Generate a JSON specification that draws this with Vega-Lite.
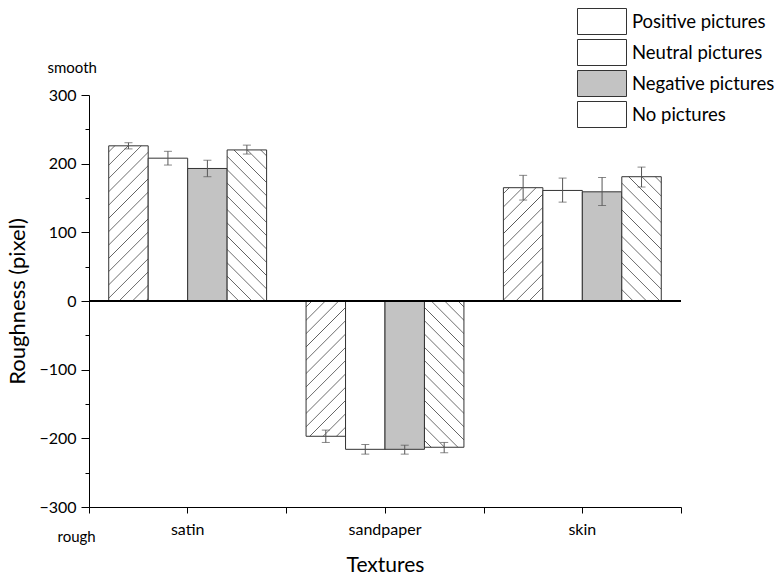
{
  "$schema": "https://vega.github.io/schema/vega-lite/v6.json",
  "width": 592,
  "height": 412,
  "autosize": "none",
  "padding": {"left": 89, "top": 95, "right": 103, "bottom": 69},
  "config": {"view": {"stroke": null}, "font": "Lato"},
  "data": {"values": [
    {"texture": "satin", "condition": "Positive pictures", "value": 226, "lo": 221.5, "hi": 230.5},
    {"texture": "satin", "condition": "Neutral pictures", "value": 208, "lo": 198, "hi": 218},
    {"texture": "satin", "condition": "Negative pictures", "value": 193, "lo": 181, "hi": 205},
    {"texture": "satin", "condition": "No pictures", "value": 220, "lo": 214, "hi": 227},
    {"texture": "sandpaper", "condition": "Positive pictures", "value": -197, "lo": -206, "hi": -188},
    {"texture": "sandpaper", "condition": "Neutral pictures", "value": -216, "lo": -223, "hi": -209},
    {"texture": "sandpaper", "condition": "Negative pictures", "value": -216, "lo": -223, "hi": -210},
    {"texture": "sandpaper", "condition": "No pictures", "value": -213, "lo": -221, "hi": -206},
    {"texture": "skin", "condition": "Positive pictures", "value": 165, "lo": 147, "hi": 183},
    {"texture": "skin", "condition": "Neutral pictures", "value": 161, "lo": 144, "hi": 179},
    {"texture": "skin", "condition": "Negative pictures", "value": 159, "lo": 139, "hi": 180},
    {"texture": "skin", "condition": "No pictures", "value": 181, "lo": 166, "hi": 195}
  ]},
  "resolve": {"axis": {"x": "independent", "y": "independent"}},
  "layer": [
    {
      "mark": {"type": "bar", "stroke": "#333333", "strokeWidth": 1},
      "encoding": {
        "x": {"field": "texture", "type": "nominal", "sort": ["satin", "sandpaper", "skin"],
          "scale": {"paddingInner": 0, "paddingOuter": 0},
          "axis": {"labelAngle": 0, "labelFontSize": 16, "labelColor": "#000", "tickSize": 6, "labelPadding": 8, "domainColor": "#000", "tickColor": "#000", "title": "Textures", "titleFontSize": 21, "titleFontWeight": "normal", "titleColor": "#000", "titlePadding": 17}},
        "xOffset": {"field": "condition", "type": "nominal", "sort": ["Positive pictures", "Neutral pictures", "Negative pictures", "No pictures"],
          "scale": {"paddingInner": 0, "paddingOuter": 0.5}},
        "y": {"field": "value", "type": "quantitative",
          "scale": {"domain": [-300, 300], "nice": false, "zero": false},
          "axis": {"values": [-300, -250, -200, -150, -100, -50, 0, 50, 100, 150, 200, 250, 300],
            "labelExpr": "datum.value % 100 === 0 ? datum.label : ''",
            "tickSize": {"condition": {"test": "datum.value % 100 === 0", "value": 8}, "value": 4},
            "labelPadding": 5, "labelFontSize": 16, "labelColor": "#000", "domainColor": "#000", "tickColor": "#000", "grid": false,
            "title": "Roughness (pixel)", "titleFontSize": 22, "titleFontWeight": "normal", "titleColor": "#000", "titlePadding": 9}},
        "fill": {
          "condition": [
            {"test": "datum.condition === 'Positive pictures' && datum.texture === 'satin'", "value": {"gradient": "linear", "x1": 0, "y1": 0, "x2": 0.30783, "y2": 1.21045, "stops": [{"offset":0,"color":"#fff"},{"offset":0.0255,"color":"#fff"},{"offset":0.03,"color":"#5a5a5a"},{"offset":0.0345,"color":"#fff"},{"offset":0.092,"color":"#fff"},{"offset":0.0965,"color":"#5a5a5a"},{"offset":0.101,"color":"#fff"},{"offset":0.1585,"color":"#fff"},{"offset":0.163,"color":"#5a5a5a"},{"offset":0.1675,"color":"#fff"},{"offset":0.225,"color":"#fff"},{"offset":0.2295,"color":"#5a5a5a"},{"offset":0.234,"color":"#fff"},{"offset":0.2915,"color":"#fff"},{"offset":0.296,"color":"#5a5a5a"},{"offset":0.3005,"color":"#fff"},{"offset":0.358,"color":"#fff"},{"offset":0.3625,"color":"#5a5a5a"},{"offset":0.367,"color":"#fff"},{"offset":0.4245,"color":"#fff"},{"offset":0.429,"color":"#5a5a5a"},{"offset":0.4335,"color":"#fff"},{"offset":0.491,"color":"#fff"},{"offset":0.4955,"color":"#5a5a5a"},{"offset":0.5,"color":"#fff"},{"offset":0.5575,"color":"#fff"},{"offset":0.562,"color":"#5a5a5a"},{"offset":0.5665,"color":"#fff"},{"offset":0.624,"color":"#fff"},{"offset":0.6285,"color":"#5a5a5a"},{"offset":0.633,"color":"#fff"},{"offset":0.6905,"color":"#fff"},{"offset":0.695,"color":"#5a5a5a"},{"offset":0.6995,"color":"#fff"},{"offset":0.757,"color":"#fff"},{"offset":0.7615,"color":"#5a5a5a"},{"offset":0.766,"color":"#fff"},{"offset":0.8235,"color":"#fff"},{"offset":0.828,"color":"#5a5a5a"},{"offset":0.8325,"color":"#fff"},{"offset":0.89,"color":"#fff"},{"offset":0.8945,"color":"#5a5a5a"},{"offset":0.899,"color":"#fff"},{"offset":0.9565,"color":"#fff"},{"offset":0.961,"color":"#5a5a5a"},{"offset":0.9655,"color":"#fff"},{"offset":1,"color":"#fff"}]}},
            {"test": "datum.condition === 'No pictures' && datum.texture === 'satin'", "value": {"gradient": "linear", "x1": 1, "y1": 0, "x2": 0.67624, "y2": 1.2393, "stops": [{"offset":0,"color":"#fff"},{"offset":0.0255,"color":"#fff"},{"offset":0.03,"color":"#5a5a5a"},{"offset":0.0345,"color":"#fff"},{"offset":0.092,"color":"#fff"},{"offset":0.0965,"color":"#5a5a5a"},{"offset":0.101,"color":"#fff"},{"offset":0.1585,"color":"#fff"},{"offset":0.163,"color":"#5a5a5a"},{"offset":0.1675,"color":"#fff"},{"offset":0.225,"color":"#fff"},{"offset":0.2295,"color":"#5a5a5a"},{"offset":0.234,"color":"#fff"},{"offset":0.2915,"color":"#fff"},{"offset":0.296,"color":"#5a5a5a"},{"offset":0.3005,"color":"#fff"},{"offset":0.358,"color":"#fff"},{"offset":0.3625,"color":"#5a5a5a"},{"offset":0.367,"color":"#fff"},{"offset":0.4245,"color":"#fff"},{"offset":0.429,"color":"#5a5a5a"},{"offset":0.4335,"color":"#fff"},{"offset":0.491,"color":"#fff"},{"offset":0.4955,"color":"#5a5a5a"},{"offset":0.5,"color":"#fff"},{"offset":0.5575,"color":"#fff"},{"offset":0.562,"color":"#5a5a5a"},{"offset":0.5665,"color":"#fff"},{"offset":0.624,"color":"#fff"},{"offset":0.6285,"color":"#5a5a5a"},{"offset":0.633,"color":"#fff"},{"offset":0.6905,"color":"#fff"},{"offset":0.695,"color":"#5a5a5a"},{"offset":0.6995,"color":"#fff"},{"offset":0.757,"color":"#fff"},{"offset":0.7615,"color":"#5a5a5a"},{"offset":0.766,"color":"#fff"},{"offset":0.8235,"color":"#fff"},{"offset":0.828,"color":"#5a5a5a"},{"offset":0.8325,"color":"#fff"},{"offset":0.89,"color":"#fff"},{"offset":0.8945,"color":"#5a5a5a"},{"offset":0.899,"color":"#fff"},{"offset":0.9565,"color":"#fff"},{"offset":0.961,"color":"#5a5a5a"},{"offset":0.9655,"color":"#fff"},{"offset":1,"color":"#fff"}]}},
            {"test": "datum.condition === 'Positive pictures' && datum.texture === 'sandpaper'", "value": {"gradient": "linear", "x1": 0, "y1": 0, "x2": 0.39754, "y2": 1.36253, "stops": [{"offset":0,"color":"#fff"},{"offset":0.0255,"color":"#fff"},{"offset":0.03,"color":"#5a5a5a"},{"offset":0.0345,"color":"#fff"},{"offset":0.092,"color":"#fff"},{"offset":0.0965,"color":"#5a5a5a"},{"offset":0.101,"color":"#fff"},{"offset":0.1585,"color":"#fff"},{"offset":0.163,"color":"#5a5a5a"},{"offset":0.1675,"color":"#fff"},{"offset":0.225,"color":"#fff"},{"offset":0.2295,"color":"#5a5a5a"},{"offset":0.234,"color":"#fff"},{"offset":0.2915,"color":"#fff"},{"offset":0.296,"color":"#5a5a5a"},{"offset":0.3005,"color":"#fff"},{"offset":0.358,"color":"#fff"},{"offset":0.3625,"color":"#5a5a5a"},{"offset":0.367,"color":"#fff"},{"offset":0.4245,"color":"#fff"},{"offset":0.429,"color":"#5a5a5a"},{"offset":0.4335,"color":"#fff"},{"offset":0.491,"color":"#fff"},{"offset":0.4955,"color":"#5a5a5a"},{"offset":0.5,"color":"#fff"},{"offset":0.5575,"color":"#fff"},{"offset":0.562,"color":"#5a5a5a"},{"offset":0.5665,"color":"#fff"},{"offset":0.624,"color":"#fff"},{"offset":0.6285,"color":"#5a5a5a"},{"offset":0.633,"color":"#fff"},{"offset":0.6905,"color":"#fff"},{"offset":0.695,"color":"#5a5a5a"},{"offset":0.6995,"color":"#fff"},{"offset":0.757,"color":"#fff"},{"offset":0.7615,"color":"#5a5a5a"},{"offset":0.766,"color":"#fff"},{"offset":0.8235,"color":"#fff"},{"offset":0.828,"color":"#5a5a5a"},{"offset":0.8325,"color":"#fff"},{"offset":0.89,"color":"#fff"},{"offset":0.8945,"color":"#5a5a5a"},{"offset":0.899,"color":"#fff"},{"offset":0.9565,"color":"#fff"},{"offset":0.961,"color":"#5a5a5a"},{"offset":0.9655,"color":"#fff"},{"offset":1,"color":"#fff"}]}},
            {"test": "datum.condition === 'No pictures' && datum.texture === 'sandpaper'", "value": {"gradient": "linear", "x1": 1, "y1": 0, "x2": 0.65607, "y2": 1.2746, "stops": [{"offset":0,"color":"#fff"},{"offset":0.0255,"color":"#fff"},{"offset":0.03,"color":"#5a5a5a"},{"offset":0.0345,"color":"#fff"},{"offset":0.092,"color":"#fff"},{"offset":0.0965,"color":"#5a5a5a"},{"offset":0.101,"color":"#fff"},{"offset":0.1585,"color":"#fff"},{"offset":0.163,"color":"#5a5a5a"},{"offset":0.1675,"color":"#fff"},{"offset":0.225,"color":"#fff"},{"offset":0.2295,"color":"#5a5a5a"},{"offset":0.234,"color":"#fff"},{"offset":0.2915,"color":"#fff"},{"offset":0.296,"color":"#5a5a5a"},{"offset":0.3005,"color":"#fff"},{"offset":0.358,"color":"#fff"},{"offset":0.3625,"color":"#5a5a5a"},{"offset":0.367,"color":"#fff"},{"offset":0.4245,"color":"#fff"},{"offset":0.429,"color":"#5a5a5a"},{"offset":0.4335,"color":"#fff"},{"offset":0.491,"color":"#fff"},{"offset":0.4955,"color":"#5a5a5a"},{"offset":0.5,"color":"#fff"},{"offset":0.5575,"color":"#fff"},{"offset":0.562,"color":"#5a5a5a"},{"offset":0.5665,"color":"#fff"},{"offset":0.624,"color":"#fff"},{"offset":0.6285,"color":"#5a5a5a"},{"offset":0.633,"color":"#fff"},{"offset":0.6905,"color":"#fff"},{"offset":0.695,"color":"#5a5a5a"},{"offset":0.6995,"color":"#fff"},{"offset":0.757,"color":"#fff"},{"offset":0.7615,"color":"#5a5a5a"},{"offset":0.766,"color":"#fff"},{"offset":0.8235,"color":"#fff"},{"offset":0.828,"color":"#5a5a5a"},{"offset":0.8325,"color":"#fff"},{"offset":0.89,"color":"#fff"},{"offset":0.8945,"color":"#5a5a5a"},{"offset":0.899,"color":"#fff"},{"offset":0.9565,"color":"#fff"},{"offset":0.961,"color":"#5a5a5a"},{"offset":0.9655,"color":"#fff"},{"offset":1,"color":"#fff"}]}},
            {"test": "datum.condition === 'Positive pictures' && datum.texture === 'skin'", "value": {"gradient": "linear", "x1": 0, "y1": 0, "x2": 0.54834, "y2": 1.57418, "stops": [{"offset":0,"color":"#fff"},{"offset":0.0255,"color":"#fff"},{"offset":0.03,"color":"#5a5a5a"},{"offset":0.0345,"color":"#fff"},{"offset":0.092,"color":"#fff"},{"offset":0.0965,"color":"#5a5a5a"},{"offset":0.101,"color":"#fff"},{"offset":0.1585,"color":"#fff"},{"offset":0.163,"color":"#5a5a5a"},{"offset":0.1675,"color":"#fff"},{"offset":0.225,"color":"#fff"},{"offset":0.2295,"color":"#5a5a5a"},{"offset":0.234,"color":"#fff"},{"offset":0.2915,"color":"#fff"},{"offset":0.296,"color":"#5a5a5a"},{"offset":0.3005,"color":"#fff"},{"offset":0.358,"color":"#fff"},{"offset":0.3625,"color":"#5a5a5a"},{"offset":0.367,"color":"#fff"},{"offset":0.4245,"color":"#fff"},{"offset":0.429,"color":"#5a5a5a"},{"offset":0.4335,"color":"#fff"},{"offset":0.491,"color":"#fff"},{"offset":0.4955,"color":"#5a5a5a"},{"offset":0.5,"color":"#fff"},{"offset":0.5575,"color":"#fff"},{"offset":0.562,"color":"#5a5a5a"},{"offset":0.5665,"color":"#fff"},{"offset":0.624,"color":"#fff"},{"offset":0.6285,"color":"#5a5a5a"},{"offset":0.633,"color":"#fff"},{"offset":0.6905,"color":"#fff"},{"offset":0.695,"color":"#5a5a5a"},{"offset":0.6995,"color":"#fff"},{"offset":0.757,"color":"#fff"},{"offset":0.7615,"color":"#5a5a5a"},{"offset":0.766,"color":"#fff"},{"offset":0.8235,"color":"#fff"},{"offset":0.828,"color":"#5a5a5a"},{"offset":0.8325,"color":"#fff"},{"offset":0.89,"color":"#fff"},{"offset":0.8945,"color":"#5a5a5a"},{"offset":0.899,"color":"#fff"},{"offset":0.9565,"color":"#fff"},{"offset":0.961,"color":"#5a5a5a"},{"offset":0.9655,"color":"#fff"},{"offset":1,"color":"#fff"}]}},
            {"test": "datum.condition === 'No pictures' && datum.texture === 'skin'", "value": {"gradient": "linear", "x1": 1, "y1": 0, "x2": 0.53584, "y2": 1.46174, "stops": [{"offset":0,"color":"#fff"},{"offset":0.0255,"color":"#fff"},{"offset":0.03,"color":"#5a5a5a"},{"offset":0.0345,"color":"#fff"},{"offset":0.092,"color":"#fff"},{"offset":0.0965,"color":"#5a5a5a"},{"offset":0.101,"color":"#fff"},{"offset":0.1585,"color":"#fff"},{"offset":0.163,"color":"#5a5a5a"},{"offset":0.1675,"color":"#fff"},{"offset":0.225,"color":"#fff"},{"offset":0.2295,"color":"#5a5a5a"},{"offset":0.234,"color":"#fff"},{"offset":0.2915,"color":"#fff"},{"offset":0.296,"color":"#5a5a5a"},{"offset":0.3005,"color":"#fff"},{"offset":0.358,"color":"#fff"},{"offset":0.3625,"color":"#5a5a5a"},{"offset":0.367,"color":"#fff"},{"offset":0.4245,"color":"#fff"},{"offset":0.429,"color":"#5a5a5a"},{"offset":0.4335,"color":"#fff"},{"offset":0.491,"color":"#fff"},{"offset":0.4955,"color":"#5a5a5a"},{"offset":0.5,"color":"#fff"},{"offset":0.5575,"color":"#fff"},{"offset":0.562,"color":"#5a5a5a"},{"offset":0.5665,"color":"#fff"},{"offset":0.624,"color":"#fff"},{"offset":0.6285,"color":"#5a5a5a"},{"offset":0.633,"color":"#fff"},{"offset":0.6905,"color":"#fff"},{"offset":0.695,"color":"#5a5a5a"},{"offset":0.6995,"color":"#fff"},{"offset":0.757,"color":"#fff"},{"offset":0.7615,"color":"#5a5a5a"},{"offset":0.766,"color":"#fff"},{"offset":0.8235,"color":"#fff"},{"offset":0.828,"color":"#5a5a5a"},{"offset":0.8325,"color":"#fff"},{"offset":0.89,"color":"#fff"},{"offset":0.8945,"color":"#5a5a5a"},{"offset":0.899,"color":"#fff"},{"offset":0.9565,"color":"#fff"},{"offset":0.961,"color":"#5a5a5a"},{"offset":0.9655,"color":"#fff"},{"offset":1,"color":"#fff"}]}}
          ],
          "field": "condition", "type": "nominal",
          "scale": {"domain": ["Positive pictures", "Neutral pictures", "Negative pictures", "No pictures"], "range": ["#ffffff", "#ffffff", "#c3c3c3", "#ffffff"]},
          "legend": {
            "orient": "none", "legendX": 502.5, "legendY": -84, "title": null, "padding": 0,
            "symbolType": "M-2.45,-1.3H2.45V1.3H-2.45Z", "symbolSize": 400,
            "symbolStrokeColor": "#333333", "symbolStrokeWidth": 1,
            "labelFontSize": 18.5, "labelColor": "#000", "labelOffset": 19.5, "rowPadding": 0
          }
        }
      }
    },
    {
      "mark": {"type": "rule", "color": "#555555", "strokeWidth": 1},
      "encoding": {
        "x": {"field": "texture", "type": "nominal", "sort": ["satin", "sandpaper", "skin"],
          "axis": {"orient": "bottom", "tickBand": "extent", "labels": false, "domain": false, "tickSize": 6, "tickColor": "#000",
            "title": "rough", "titleX": -32, "titleY": 29, "titleAlign": "left", "titleBaseline": "middle", "titleAngle": 0, "titleFontSize": 15, "titleFontWeight": "normal", "titleColor": "#000"}},
        "xOffset": {"field": "condition", "type": "nominal", "sort": ["Positive pictures", "Neutral pictures", "Negative pictures", "No pictures"]},
        "y": {"field": "lo", "type": "quantitative",
          "axis": {"orient": "left", "labels": false, "ticks": false, "domain": false, "grid": false,
            "title": "smooth", "titleX": -42, "titleY": -28, "titleAlign": "left", "titleBaseline": "middle", "titleAngle": 0, "titleFontSize": 15, "titleFontWeight": "normal", "titleColor": "#000"}},
        "y2": {"field": "hi"}
      }
    },
    {
      "mark": {"type": "tick", "size": 8, "thickness": 1, "color": "#555555"},
      "encoding": {
        "x": {"field": "texture", "type": "nominal", "sort": ["satin", "sandpaper", "skin"], "axis": null},
        "xOffset": {"field": "condition", "type": "nominal", "sort": ["Positive pictures", "Neutral pictures", "Negative pictures", "No pictures"]},
        "y": {"field": "lo", "type": "quantitative", "axis": null}
      }
    },
    {
      "mark": {"type": "tick", "size": 8, "thickness": 1, "color": "#555555"},
      "encoding": {
        "x": {"field": "texture", "type": "nominal", "sort": ["satin", "sandpaper", "skin"], "axis": null},
        "xOffset": {"field": "condition", "type": "nominal", "sort": ["Positive pictures", "Neutral pictures", "Negative pictures", "No pictures"]},
        "y": {"field": "hi", "type": "quantitative", "axis": null}
      }
    },
    {
      "mark": {"type": "rule", "color": "#000000", "strokeWidth": 1},
      "encoding": {"y": {"datum": 0, "type": "quantitative", "axis": null}}
    }
  ]
}
